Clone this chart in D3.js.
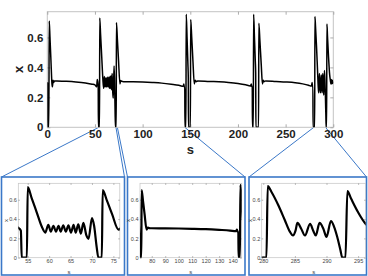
<!DOCTYPE html>
<html>
<head>
<meta charset="utf-8">
<script src="https://cdn.jsdelivr.net/npm/d3@7"></script>
<style>
  body { margin: 0; background: #fff; }
  svg { display: block; font-family: 'Liberation Sans', Arial, sans-serif; }
</style>
</head>
<body>
<script>
// trace pieces, [s, x]
const spike0 = [[0, 0.30], [0.3, 0.29], [0.4, 0], [1.6, 0], [2.0, 0.71], [2.8, 0.6], [3.8, 0.45], [4.9, 0.29],
  [5.4, 0.27], [6.0, 0.315], [6.6, 0.30], [7.5, 0.31]];
const plateauA = [[10, 0.309], [20, 0.307], [30, 0.303], [40, 0.296], [47, 0.288], [50, 0.283], [51.8, 0.27],
  [52.4, 0.32], [52.8, 0.31], [53.4, 0.28], [53.6, 0]];
const burstA = [[54.8, 0], [55.0, 0.73], [55.9, 0.62], [57.1, 0.47], [58.3, 0.32], [59.1, 0.26], [59.8, 0.34],
  [60.4, 0.27], [61.0, 0.33], [61.6, 0.27], [62.2, 0.33], [62.7, 0.27], [63.3, 0.335], [63.9, 0.27],
  [64.5, 0.335], [65.1, 0.26], [65.7, 0.34], [66.2, 0.26], [66.8, 0.345], [67.4, 0.25], [68.0, 0.36],
  [68.7, 0.23], [69.2, 0.195], [70.0, 0.41], [70.5, 0.33], [71.1, 0.11], [71.5, 0], [72.3, 0],
  [72.5, 0.70], [73.5, 0.59], [74.7, 0.45], [76.2, 0.29], [77, 0.312], [78, 0.307]];
const plateauB = [[80, 0.305], [90, 0.304], [100, 0.302], [110, 0.299], [120, 0.295], [130, 0.288],
  [138, 0.281], [142.5, 0.274], [143.2, 0.29], [143.6, 0.27], [144.2, 0.27], [144.4, 0]];
const pairB = [[145.4, 0], [145.7, 0.755], [146.6, 0.6], [147.5, 0.42], [147.9, 0.33], [148.1, 0], [150.1, 0],
  [150.4, 0.72], [151.5, 0.6], [152.8, 0.44], [154.2, 0.29], [155, 0.315], [156, 0.305], [158, 0.31]];
const plateauC = [[170, 0.306], [180, 0.304], [190, 0.300], [200, 0.293], [208, 0.284], [213, 0.276],
  [214, 0.29], [214.5, 0.272], [215, 0.27], [215.2, 0]];
const pairC = [[216.1, 0], [216.4, 0.755], [217.3, 0.6], [218.2, 0.44], [218.6, 0.36], [218.8, 0], [221.6, 0],
  [221.9, 0.695], [223, 0.58], [224.4, 0.42], [225.7, 0.29], [226.4, 0.315], [227.3, 0.305], [229, 0.31]];
const plateauD = [[240, 0.306], [250, 0.303], [260, 0.298], [268, 0.29], [274, 0.281], [277, 0.275],
  [277.8, 0.30], [278.3, 0.265], [278.6, 0.27], [278.8, 0]];
const burstD = [[280.5, 0], [280.7, 0.74], [281.3, 0.68], [282.4, 0.54], [283.4, 0.39], [284.2, 0.27],
  [284.7, 0.23], [285.1, 0.28], [285.4, 0.36], [286.0, 0.30], [286.6, 0.23], [287.4, 0.35], [287.9, 0.28],
  [288.3, 0.23], [288.9, 0.36], [289.5, 0.30], [290.0, 0.215], [290.7, 0.38], [291.2, 0.32], [291.7, 0.215],
  [292.2, 0.08], [292.5, 0], [293.0, 0], [293.3, 0.69], [293.9, 0.61], [295.0, 0.47], [296.2, 0.35]];
const tail = [[297, 0.31], [297.5, 0.29], [298, 0.32], [298.5, 0.29], [299, 0.315], [299.5, 0.295], [300, 0.305]];

const trace = [].concat(spike0, plateauA, burstA, plateauB, pairB, plateauC, pairC, plateauD, burstD, tail);

const mainXTicks = [0, 50, 100, 150, 200, 250, 300];
const yTicks = [0, 0.2, 0.4, 0.6];

// zoom windows
const insetDomains = [[52.8, 76.5], [71.3, 146.7], [279.75, 296.2]];
const insetTicks = [[55, 60, 65, 70, 75], [80, 90, 100, 110, 120, 130, 140], [280, 285, 290, 295]];
const connectorS = [[54, 72], [73.5, 144.2], [279.6, 291.8]];

const W = 368, H = 276;
const blue = '#3b78c8';
const boxGrey = '#c4c4c4';

const svg = d3.select('body').append('svg')
  .attr('width', W)
  .attr('height', H);

const m = { l: 47.3, r: 333.3, t: 11.7, b: 127.3 };

const x = d3.scaleLinear().domain([0, 300]).range([m.l, m.r]);
const y = d3.scaleLinear().domain([0, 0.772]).range([m.b, m.t]);

// connectors first so the frames sit over them
const frames = [[1.5, 124.5], [127.5, 245], [249, 366.5]];
const frameTop = 177, frameBottom = 275;

connectorS.forEach((c, i) => {
  svg.append('line')
    .attr('x1', x(c[0])).attr('y1', m.b)
    .attr('x2', frames[i][0]).attr('y2', frameTop)
    .attr('stroke', blue).attr('stroke-width', 1);
  svg.append('line')
    .attr('x1', x(c[1])).attr('y1', m.b)
    .attr('x2', frames[i][1]).attr('y2', frameTop)
    .attr('stroke', blue).attr('stroke-width', 1);
});

svg.append('rect')
  .attr('x', m.l).attr('y', m.t)
  .attr('width', m.r - m.l).attr('height', m.b - m.t)
  .attr('fill', '#fff');

function drawAxes(g, xs, ys, xt, opts) {
  const b = ys.range()[0], t = ys.range()[1];
  const l = xs.range()[0], r = xs.range()[1];
  g.append('rect')
    .attr('x', l).attr('y', t)
    .attr('width', r - l).attr('height', b - t)
    .attr('fill', 'none')
    .attr('stroke', boxGrey)
    .attr('stroke-width', opts.box);

  const gx = g.append('g')
    .attr('transform', `translate(0,${b})`)
    .call(d3.axisBottom(xs).tickValues(xt).tickSizeInner(-opts.tick).tickSizeOuter(0).tickPadding(opts.padX));
  const gxt = g.append('g')
    .attr('transform', `translate(0,${t})`)
    .call(d3.axisTop(xs).tickValues(xt).tickSizeInner(-opts.tick).tickSizeOuter(0).tickFormat(''));
  const gy = g.append('g')
    .attr('transform', `translate(${l},0)`)
    .call(d3.axisLeft(ys).tickValues(yTicks).tickSizeInner(-opts.tick).tickSizeOuter(0).tickPadding(opts.padY)
      .tickFormat(d => d === 0 ? '0' : d3.format('.1f')(d)));
  const gyr = g.append('g')
    .attr('transform', `translate(${r},0)`)
    .call(d3.axisRight(ys).tickValues(yTicks).tickSizeInner(-opts.tick).tickSizeOuter(0).tickFormat(''));

  [gx, gxt, gy, gyr].forEach(a => {
    a.select('.domain').remove();
    a.selectAll('line').attr('stroke', '#999').attr('stroke-width', 0.8);
    a.selectAll('text')
      .attr('fill', opts.color)
      .style('font-size', opts.font + 'px')
      .style('font-weight', opts.weight)
      .style('font-family', "'Liberation Sans', Arial, sans-serif");
  });
}

// main axes
const mainG = svg.append('g');
drawAxes(mainG, x, y, mainXTicks, { box: 1, tick: 3, padX: 3, padY: 4, font: 11.5, weight: 'bold', color: '#222' });

svg.append('clipPath').attr('id', 'clip-main')
  .append('rect')
  .attr('x', m.l).attr('y', m.t - 2)
  .attr('width', m.r - m.l).attr('height', m.b - m.t + 2);

const line = d3.line()
  .x(d => x(d[0]))
  .y(d => y(d[1]))
  .curve(d3.curveMonotoneX);

mainG.append('path')
  .datum(trace)
  .attr('clip-path', 'url(#clip-main)')
  .attr('fill', 'none')
  .attr('stroke', '#000')
  .attr('stroke-width', 1.5)
  .attr('stroke-linejoin', 'round')
  .attr('d', line);

mainG.append('text')
  .attr('x', (m.l + m.r) / 2)
  .attr('y', 153.5)
  .attr('text-anchor', 'middle')
  .style('font-size', '13px')
  .style('font-weight', 'bold')
  .attr('fill', '#222')
  .text('s');

mainG.append('text')
  .attr('transform', `translate(22.5,${(m.t + m.b) / 2}) rotate(-90)`)
  .attr('text-anchor', 'middle')
  .style('font-size', '13px')
  .style('font-weight', 'bold')
  .attr('fill', '#222')
  .text('x');

// insets
const insetAxes = [[18.3, 119.8], [140, 241.7], [261.7, 365.7]];
const insetTop = 183.3, insetBottom = 257.7;

insetDomains.forEach((dom, i) => {
  const f = frames[i];
  svg.append('rect')
    .attr('x', f[0]).attr('y', frameTop)
    .attr('width', f[1] - f[0]).attr('height', frameBottom - frameTop)
    .attr('fill', '#fff')
    .attr('stroke', blue)
    .attr('stroke-width', 1.6);

  const xi = d3.scaleLinear().domain(dom).range(insetAxes[i]);
  const yi = d3.scaleLinear().domain([0, 0.77]).range([insetBottom, insetTop]);
  const g = svg.append('g');
  drawAxes(g, xi, yi, insetTicks[i], { box: 0.7, tick: 1.5, padX: 1.5, padY: 1.5, font: 5.5, weight: 'normal', color: '#444' });

  svg.append('clipPath').attr('id', 'clip-' + i)
    .append('rect')
    .attr('x', insetAxes[i][0]).attr('y', insetTop - 2)
    .attr('width', insetAxes[i][1] - insetAxes[i][0]).attr('height', insetBottom - insetTop + 2);

  const li = d3.line()
    .x(d => xi(d[0]))
    .y(d => yi(d[1]))
    .curve(d3.curveMonotoneX);

  g.append('path')
    .datum(trace.filter(d => d[0] >= dom[0] - 3 && d[0] <= dom[1] + 3))
    .attr('clip-path', `url(#clip-${i})`)
    .attr('fill', 'none')
    .attr('stroke', '#000')
    .attr('stroke-width', 2.2)
    .attr('stroke-linejoin', 'round')
    .attr('d', li);

  g.append('text')
    .attr('x', (insetAxes[i][0] + insetAxes[i][1]) / 2)
    .attr('y', 273.5)
    .attr('text-anchor', 'middle')
    .style('font-size', '6px')
    .attr('fill', '#444')
    .text('s');

  g.append('text')
    .attr('transform', `translate(${insetAxes[i][0] - 10},${(insetTop + insetBottom) / 2}) rotate(-90)`)
    .attr('text-anchor', 'middle')
    .style('font-size', '6px')
    .attr('fill', '#444')
    .text('x');
});
</script>
</body>
</html>
